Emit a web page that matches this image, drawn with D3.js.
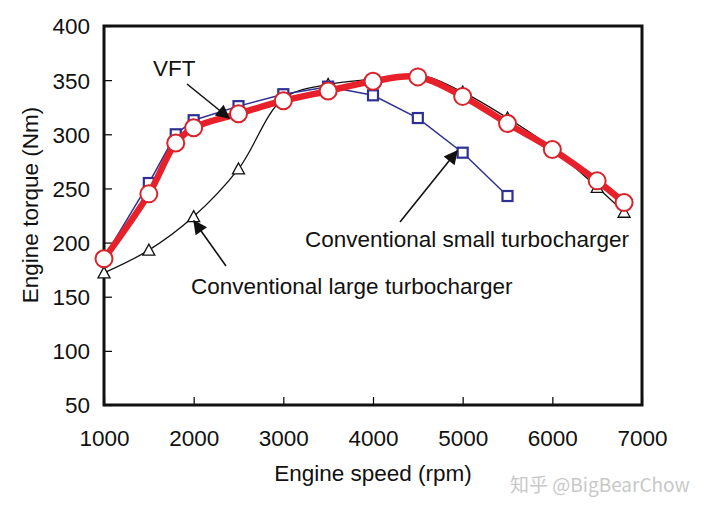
<!DOCTYPE html>
<html><head><meta charset="utf-8">
<script src="https://cdn.jsdelivr.net/npm/d3@7"></script>
<style>body{margin:0;background:#fff}svg{display:block}</style>
</head><body>
<svg id="c" width="704" height="515"></svg>
<script>
const vftSpeed = [1000,1500,1800,2000,2500,3000,3500,4000,4500,5000,5500,6000,6500,6800];
const vftTorque = [185,245,292,306,319,331,340,349,353,335,310,286,257,237];
const smallSpeed = [1000,1500,1800,2000,2500,3000,3500,4000,4500,5000,5500];
const smallTorque = [186,255,300,313,326,337,344,336,315,283,243];
const largeSpeed = [1000,1500,2000,2500,3000,3500,4000,4500,5000,5500,6000,6500,6800];
const largeTorque = [172,193,224,268,333,346,351,355,339,315,287,251,228];
const xTicks = [1000,2000,3000,4000,5000,6000,7000];
const yTicks = [50,100,150,200,250,300,350,400];

const svg = d3.select("#c");
const font = "Liberation Sans, Arial, sans-serif";
const fs = 22.5;
const x = d3.scaleLinear().domain([1000,7000]).range([104,642]);
const y = d3.scaleLinear().domain([50,400]).range([405,26]);

// axes
const gx = svg.append("g").attr("transform","translate(0,405)")
  .call(d3.axisBottom(x).tickValues(xTicks).tickSize(-8).tickPadding(25).tickFormat(d3.format("d")));
const gy = svg.append("g").attr("transform","translate(104,0)")
  .call(d3.axisLeft(y).tickValues(yTicks).tickSize(-8).tickPadding(14));
[gx,gy].forEach(g=>{
  g.select(".domain").remove();
  g.selectAll(".tick line").attr("stroke","#000").attr("stroke-width",1.2);
  g.selectAll(".tick text").attr("font-family",font).attr("font-size",fs).attr("fill","#111");
});
gy.selectAll(".tick text").attr("dy","0.35em");
svg.append("rect").attr("x",104).attr("y",26).attr("width",538).attr("height",379)
  .attr("fill","none").attr("stroke","#111").attr("stroke-width",3);

// axis titles
svg.append("text").attr("x",373).attr("y",481).attr("text-anchor","middle")
  .attr("font-family",font).attr("font-size",fs).attr("fill","#111").text("Engine speed (rpm)");
svg.append("text").attr("transform","translate(38,205) rotate(-90)").attr("text-anchor","middle")
  .attr("font-family",font).attr("font-size",fs).attr("fill","#111").text("Engine torque (Nm)");

// defs arrow
svg.append("defs").append("marker").attr("id","ah").attr("viewBox","0 0 10 10")
  .attr("refX",9).attr("refY",5).attr("markerWidth",18).attr("markerHeight",14)
  .attr("markerUnits","userSpaceOnUse").attr("orient","auto")
  .append("path").attr("d","M0,0 L10,5 L0,10 Z").attr("fill","#111");

// large turbo (black)
const largeData = largeSpeed.map((s,i)=>[s,largeTorque[i]]);
svg.append("path").datum(largeData)
  .attr("d",d3.line().x(d=>x(d[0])).y(d=>y(d[1])).curve(d3.curveCatmullRom))
  .attr("fill","none").attr("stroke","#111").attr("stroke-width",1.3);
svg.append("g").selectAll("path").data(largeData).join("path")
  .attr("transform",d=>`translate(${x(d[0])},${y(d[1])})`)
  .attr("d","M0,-6 L6,5 L-6,5 Z").attr("fill","#fff").attr("stroke","#111").attr("stroke-width",1.3);

// small turbo (blue)
const smallData = smallSpeed.map((s,i)=>[s,smallTorque[i]]);
svg.append("path").datum(smallData)
  .attr("d",d3.line().x(d=>x(d[0])).y(d=>y(d[1])))
  .attr("fill","none").attr("stroke","#2e3192").attr("stroke-width",1.5);
svg.append("g").selectAll("rect").data(smallData).join("rect")
  .attr("x",d=>x(d[0])-5).attr("y",d=>y(d[1])-5).attr("width",10).attr("height",10)
  .attr("fill","#fff").attr("stroke","#2e3192").attr("stroke-width",2.2);

// VFT (red)
const vftData = vftSpeed.map((s,i)=>[s,vftTorque[i]]);
svg.append("path").datum(vftData)
  .attr("d",d3.line().x(d=>x(d[0])).y(d=>y(d[1])).curve(d3.curveCatmullRom))
  .attr("fill","none").attr("stroke","#e8202a").attr("stroke-width",6.5).attr("stroke-linejoin","round");
svg.append("g").selectAll("circle").data(vftData).join("circle")
  .attr("cx",d=>x(d[0])).attr("cy",d=>y(d[1])).attr("r",8.5)
  .attr("fill","#fff").attr("stroke","#d9232b").attr("stroke-width",2);

// annotations
function ann(t,tx,ty,x1,y1,x2,y2){
  svg.append("text").attr("x",tx).attr("y",ty).attr("font-family",font).attr("font-size",fs)
    .attr("fill","#111").text(t);
  svg.append("line").attr("x1",x1).attr("y1",y1).attr("x2",x2).attr("y2",y2)
    .attr("stroke","#111").attr("stroke-width",1.6).attr("marker-end","url(#ah)");
}
ann("VFT",153,76,187,84,229,118);
ann("Conventional small turbocharger",305,247,400,222,457,151);
ann("Conventional large turbocharger",191,294,226,266,194,221);

// watermark
svg.append("text").attr("x",510).attr("y",492).attr("font-family","Noto Sans CJK SC, sans-serif")
  .attr("font-size",19).attr("fill","#c8c8c8").text("知乎 @BigBearChow");
</script>
</body></html>
